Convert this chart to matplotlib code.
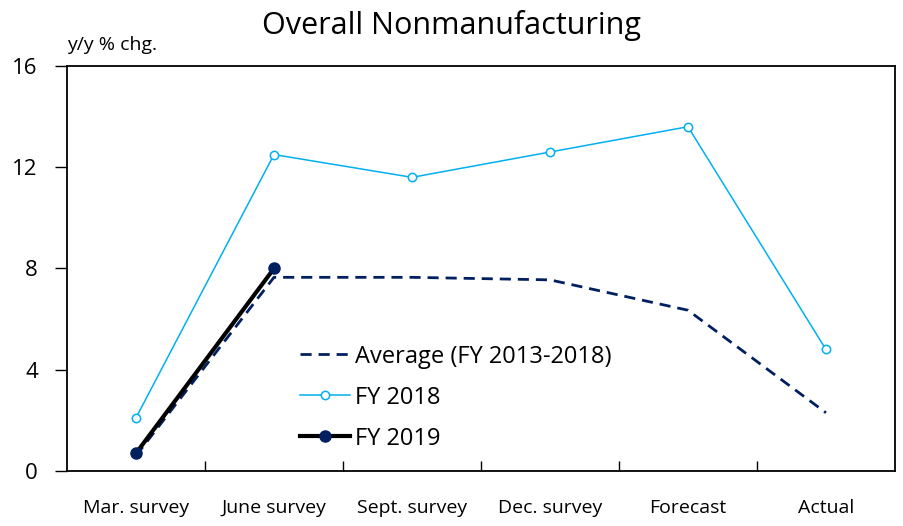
import matplotlib
matplotlib.use('Agg')
import matplotlib.pyplot as plt
import numpy as np

plt.rcParams['font.family'] = ['Open Sans', 'DejaVu Sans']

categories = ['Mar. survey', 'June survey', 'Sept. survey', 'Dec. survey', 'Forecast', 'Actual']
avg_2013_2018 = [0.6, 7.65, 7.65, 7.55, 6.35, 2.3]
fy2018 = [2.1, 12.5, 11.6, 12.6, 13.6, 4.8]
fy2019 = [0.7, 8.0]

x = np.arange(len(categories))

fig = plt.figure(figsize=(9.04, 5.26), dpi=100)
ax = fig.add_axes([0.0741, 0.1046, 0.9159, 0.77])

ax.plot(x, avg_2013_2018, color='#002060', linestyle=(0, (4, 2.5)), linewidth=2,
        label='Average (FY 2013-2018)')
ax.plot(x, fy2018, color='#00B0F0', linewidth=1.1, marker='o', markersize=6,
        markerfacecolor='white', markeredgecolor='#00B0F0', markeredgewidth=1.1,
        label='FY 2018')
ax.plot(x[:len(fy2019)], fy2019, color='black', linewidth=3, marker='o', markersize=8,
        markerfacecolor='#002060', markeredgecolor='#002060', label='FY 2019')

ax.set_xlim(-0.5, len(categories) - 0.5)
ax.set_ylim(0, 16)
ax.set_yticks([0, 4, 8, 12, 16])
ax.set_xticks(x)
ax.set_xticklabels(categories, fontsize=14)
ax.tick_params(axis='x', length=0, pad=20)
ax.set_xticks(np.arange(0.5, len(categories) - 0.5, 1), minor=True)
ax.tick_params(axis='x', which='minor', direction='in', length=7, width=1)
ax.tick_params(axis='y', direction='out', length=9, width=1, labelsize=16, pad=12)

for s in ax.spines.values():
    s.set_linewidth(1.3)

fig.text(0.5, 0.952, 'Overall Nonmanufacturing', ha='center', va='center', fontsize=22)
fig.text(0.074, 0.915, 'y/y % chg.', ha='left', va='center', fontsize=14)

leg = ax.legend(loc='upper left', bbox_to_anchor=(0.27, 0.335), frameon=False,
                fontsize=17, handlelength=2.1, handletextpad=0.25, labelspacing=0.72,
                borderaxespad=0)

fig.savefig('out.png', dpi=100)
